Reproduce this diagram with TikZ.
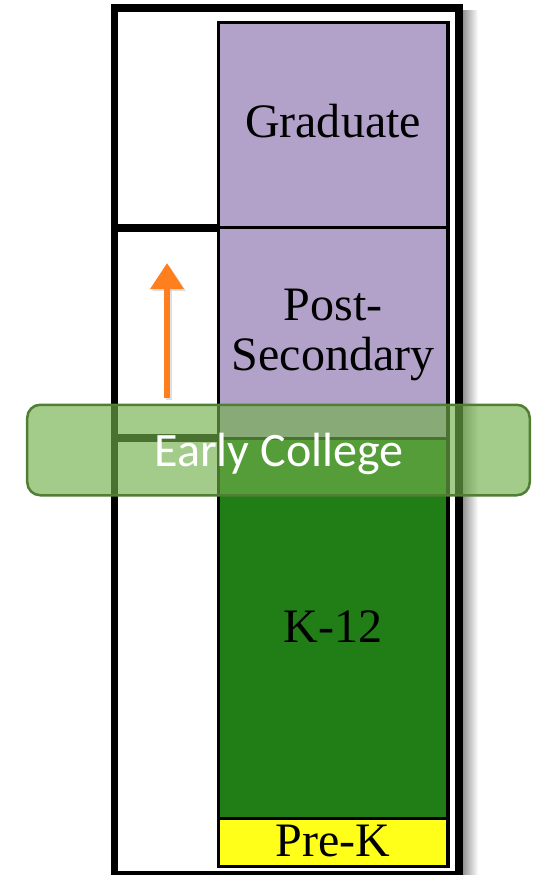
\documentclass[tikz,border=0pt]{standalone}
\usepackage{fontspec}
\setmainfont{Liberation Serif}
\newfontfamily\calibri{Carlito}
\usetikzlibrary{arrows.meta}
\definecolor{gradpurple}{HTML}{B2A2C9}
\definecolor{kgreen}{HTML}{217E17}
\definecolor{prekyellow}{HTML}{FFFF1A}
\definecolor{ecfill}{HTML}{71AF4B}
\definecolor{ecborder}{HTML}{507E32}
\definecolor{arroworange}{HTML}{FF7F1F}
\begin{document}
\begin{tikzpicture}[x=1bp,y=-1bp,
  frame/.style={draw=black, line width=7.5bp},
  colborder/.style={draw=black, line width=3.5bp},
  shelf/.style={draw=black, line width=8bp},
  level/.style={anchor=base, font=\fontsize{48.2}{50}\selectfont, text=black, inner sep=0pt},
  uparrow/.style={draw=arroworange, line width=6.5bp, -{Triangle[width=32bp,length=26bp]}},
  uparrowshadow/.style={draw=black!25, opacity=0.5, line width=6.5bp, -{Triangle[width=32bp,length=26bp]}},
  ecbox/.style={draw=ecborder, line width=2.5bp, fill=ecfill, fill opacity=0.65,
    rounded corners=13bp, inner sep=0pt, minimum width=502.5bp, minimum height=90.5bp},
  eclabel/.style={anchor=base, font=\calibri\fontsize{48.2}{50}\selectfont, text=white, inner sep=0pt}]
\useasboundingbox (0,0) rectangle (541,875);

% soft shadow on the right of the frame
\shade[left color=black!45, right color=white] (462,10) rectangle (478,875);

% the column of levels
\fill[gradpurple] (218.5,22.5) rectangle (448,227.5);
\fill[gradpurple] (218.5,227.5) rectangle (448,438.5);
\fill[kgreen] (218.5,438.5) rectangle (448,818.5);
\fill[prekyellow] (218.5,818.5) rectangle (448,866.5);
\draw[colborder] (218.5,22.5) rectangle (448,866.5);
\draw[colborder] (218.5,227.5) -- (448,227.5);
\draw[colborder] (218.5,438.5) -- (448,438.5);
\draw[colborder] (218.5,818.5) -- (448,818.5);

% outer frame and the shelves of the left compartment
\draw[frame] (114.5,8) rectangle (459,875);
\draw[shelf] (118,227.5) -- (217,227.5);
\draw[shelf] (118,438) -- (217,438);

% level names
\node[level] (grad) at (333,137) {Graduate};
\node[level] (post) at (333,320) {Post-};
\node[level] (second) at (333,370) {Secondary};
\node[level] (k12) at (333,642) {K-12};
\node[level] (prek) at (333,856) {Pre-K};

% upward arrow
\coordinate (arrowfoot) at (167,398);
\coordinate (arrowtip) at (167,263);
\draw[uparrowshadow] ([shift={(2,2)}]arrowfoot) -- ([shift={(2,2)}]arrowtip);
\draw[uparrow] (arrowfoot) -- (arrowtip);

% translucent band across the column
\node[ecbox] (early) at (278.5,450) {};
\node[eclabel] (earlylabel) at (279,466) {Early College};
\end{tikzpicture}
\end{document}
